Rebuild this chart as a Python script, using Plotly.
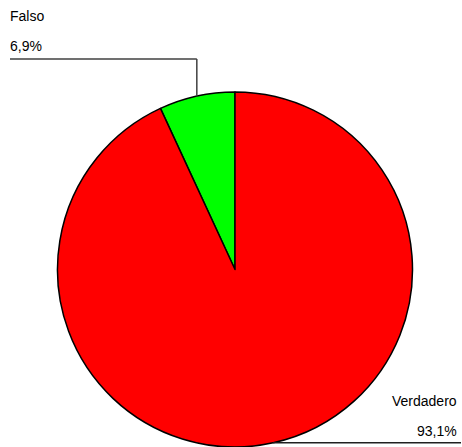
import math
import plotly.graph_objects as go

# Category labels and their shares (percent)
labels = ["Falso", "Verdadero"]
values = [6.9, 93.1]
colors = ["#00ff00", "#ff0000"]

W, H = 462, 447
# pie placement in pixels
cx, cy, r = 235.0, 269.5, 177.5

def px_x(x):
    return x / W

def px_y(y):
    return 1 - y / H

def fmt_pct(v):
    return f"{v:.1f}".replace(".", ",") + "%"

fig = go.Figure(go.Pie(
    labels=labels,
    values=values,
    marker=dict(colors=colors, line=dict(color="black", width=1.5)),
    sort=False,
    direction="clockwise",
    rotation=360 * (1 - values[0] / sum(values)),
    textinfo="none",
    hoverinfo="label+percent",
    showlegend=False,
    domain=dict(x=[px_x(cx - r), px_x(cx + r)], y=[0, px_y(cy - r)]),
))

# mid-angle of each slice, measured from 12 o'clock towards the left
total = sum(values)
mids = []
acc = 0.0
for v in values:
    mids.append((acc + v / 2) / total * 360.0)
    acc += v

def edge_point(deg):
    a = math.radians(deg)
    return cx - r * math.sin(a), cy - r * math.cos(a)

font = dict(family="Liberation Sans, Arial, sans-serif", size=14, color="black")
annotations = []
shapes = []

# Falso label: top-left with elbow leader line
fx, fy = edge_point(mids[0])
line_y = 59
annotations.append(dict(x=px_x(8), y=px_y(16), xref="paper", yref="paper",
                        text=labels[0], showarrow=False, xanchor="left",
                        yanchor="middle", font=font))
annotations.append(dict(x=px_x(8), y=px_y(46), xref="paper", yref="paper",
                        text=fmt_pct(values[0]), showarrow=False, xanchor="left",
                        yanchor="middle", font=font))
shapes.append(dict(type="line", xref="paper", yref="paper",
                   x0=px_x(10), y0=px_y(line_y), x1=px_x(fx), y1=px_y(line_y),
                   line=dict(color="#404040", width=1.5)))
shapes.append(dict(type="line", xref="paper", yref="paper",
                   x0=px_x(fx), y0=px_y(line_y), x1=px_x(fx), y1=px_y(fy),
                   line=dict(color="#404040", width=1.5)))

# Verdadero label: bottom-right with horizontal leader line
vx, vy = edge_point(mids[1])
annotations.append(dict(x=px_x(459), y=px_y(401), xref="paper", yref="paper",
                        text=labels[1], showarrow=False, xanchor="right",
                        yanchor="middle", font=font))
annotations.append(dict(x=px_x(459), y=px_y(431), xref="paper", yref="paper",
                        text=fmt_pct(values[1]), showarrow=False, xanchor="right",
                        yanchor="middle", font=font))
shapes.append(dict(type="line", xref="paper", yref="paper",
                   x0=px_x(vx), y0=px_y(vy), x1=px_x(461), y1=px_y(vy),
                   line=dict(color="#202020", width=1.5)))

fig.update_layout(
    width=W, height=H,
    margin=dict(l=0, r=0, t=0, b=0),
    paper_bgcolor="white",
    plot_bgcolor="white",
    annotations=annotations,
    shapes=shapes,
)

fig.write_html("out.html")
